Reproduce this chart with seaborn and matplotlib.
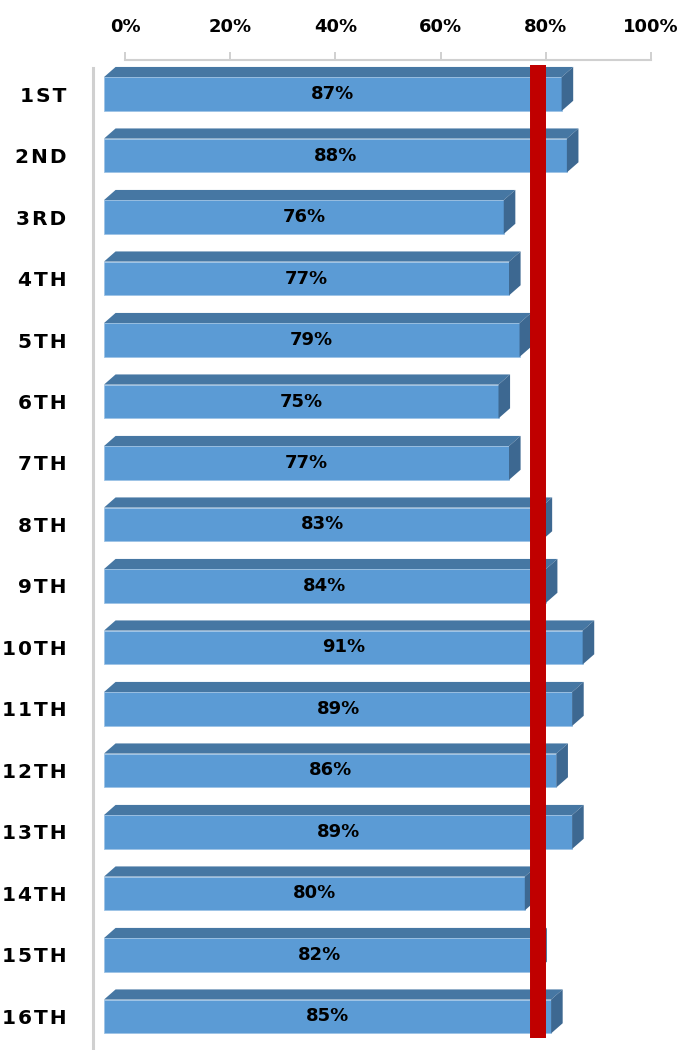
import pandas as pd
import seaborn as sns
import matplotlib.pyplot as plt
from matplotlib.patches import Polygon

grades = ['1ST', '2ND', '3RD', '4TH', '5TH', '6TH', '7TH', '8TH',
          '9TH', '10TH', '11TH', '12TH', '13TH', '14TH', '15TH', '16TH']
scores = [0.87, 0.88, 0.76, 0.77, 0.79, 0.75, 0.77, 0.83,
          0.84, 0.91, 0.89, 0.86, 0.89, 0.80, 0.82, 0.85]
target = 0.80
ticks = [0.0, 0.2, 0.4, 0.6, 0.8, 1.0]
tick_labels = ['0%', '20%', '40%', '60%', '80%', '100%']

data = pd.DataFrame({'grade': grades, 'score': scores})

front = '#5B9BD5'
top_c = '#4677A3'
side_c = '#3D6891'
bar_h = 0.55
dx = 0.022          # 3d depth, x units
dy = 0.165          # 3d depth, category units
shift = 0.04        # back plane offset for the top axis

sns.set_theme(style='white')
plt.rcParams['font.family'] = ['DejaVu Sans']

W, H = 679, 1050
fig = plt.figure(figsize=(W / 100, H / 100), dpi=100)
ppu = 526
x0, x1 = -0.02, 1.08
left_px = 104 + x0 * ppu
ax = fig.add_axes([left_px / W, 0, (x1 - x0) * ppu / W, 990 / H])

sns.barplot(data=data, y='grade', x='score', orient='h', color=front,
            width=bar_h, saturation=1, ax=ax, zorder=2,
            edgecolor='#9DC3E6', linewidth=0.6)

for i, v in enumerate(scores):
    yt = i - bar_h / 2
    yb = i + bar_h / 2
    ax.add_patch(Polygon([(0, yt), (v, yt), (v + dx, yt - dy), (dx, yt - dy)],
                         closed=True, facecolor=top_c, edgecolor='none', zorder=2))
    ax.add_patch(Polygon([(v, yt), (v + dx, yt - dy), (v + dx, yb - dy), (v, yb)],
                         closed=True, facecolor=side_c, edgecolor='none', zorder=2))
    ax.text(v / 2, i, f'{round(v * 100)}%', ha='center', va='center',
            fontsize=13, fontweight='bold', color='black', zorder=3)

# target line
ax.plot([target + shift / 2 + 0.005] * 2, [-0.47, 15.35], color='#C00000',
        linewidth=11.5, solid_capstyle='butt', zorder=4)

ax.set_xlim(x0, x1)
ax.set_ylim(15.545, -0.553)
ax.set_xlabel('')
ax.set_ylabel('')
ax.set_xticks([])
for s in ['top', 'right', 'bottom']:
    ax.spines[s].set_visible(False)
ax.spines['left'].set_color('#D0D0D0')
ax.spines['left'].set_linewidth(2.2)
ax.spines['left'].set_bounds(15.545, -0.42)

ax.tick_params(axis='y', length=0, pad=19.5)
ax.set_yticks(range(len(grades)))
ax.set_yticklabels(['\u200a'.join(g) for g in grades], fontsize=14.5,
                   fontweight='bold', color='black')

secax = ax.secondary_xaxis('top', functions=(lambda x: x - shift, lambda x: x + shift))
secax.set_xticks(ticks)
secax.set_xticklabels(tick_labels, fontsize=13, fontweight='bold', color='black')
secax.tick_params(axis='x', direction='out', length=5.5, width=1.2,
                  color='#C8C8C8', pad=12)
secax.spines['top'].set_color('#D0D0D0')
secax.spines['top'].set_linewidth(1.5)
secax.spines['top'].set_bounds(0, 1)

fig.savefig('out.png', dpi=100)
